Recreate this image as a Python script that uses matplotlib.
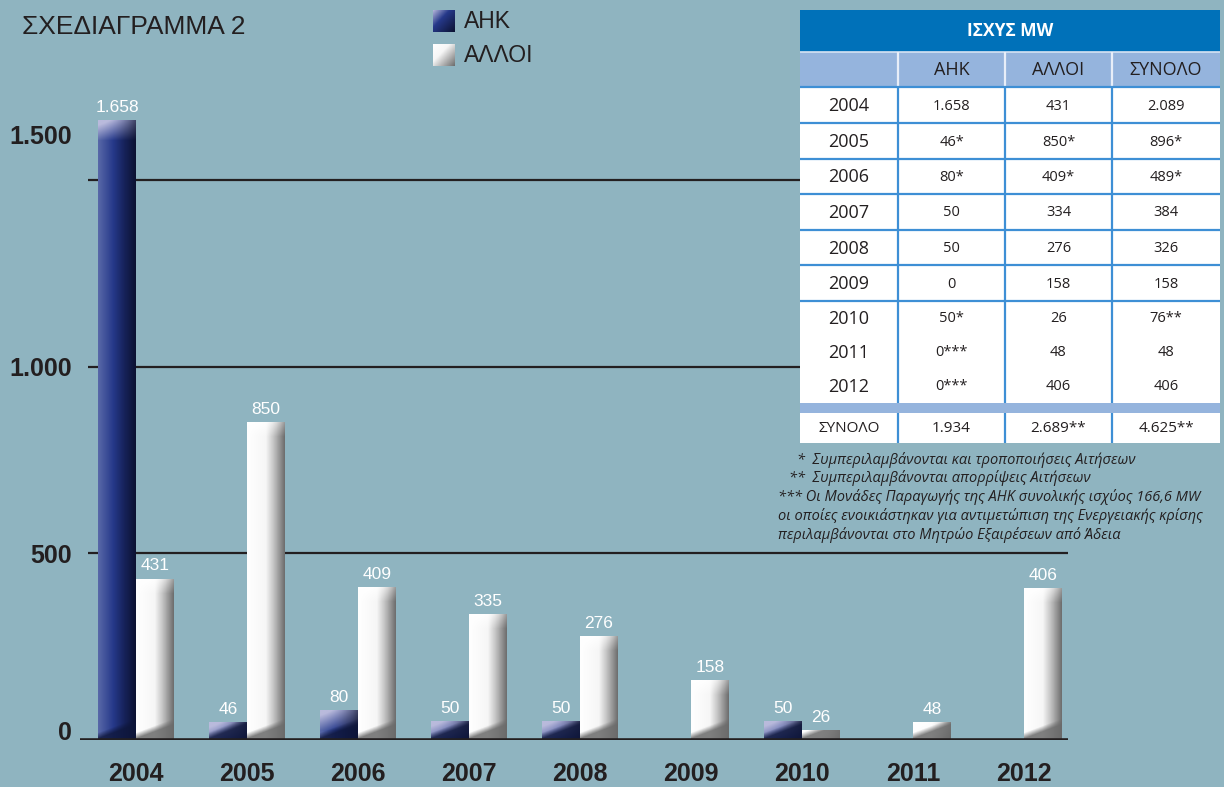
import matplotlib.pyplot as plt
import numpy as np
from matplotlib.patches import Rectangle
from matplotlib.transforms import ScaledTranslation

# chart data
years = ['2004', '2005', '2006', '2007', '2008', '2009', '2010', '2011', '2012']
ahk = [1658, 46, 80, 50, 50, 0, 50, 0, 0]
alloi = [431, 850, 409, 335, 276, 158, 26, 48, 406]
yticks = [0, 500, 1000, 1500]
ytick_labels = ['0', '500', '1.000', '1.500']
series_names = ['ΑΗΚ', 'ΑΛΛΟΙ']
title = 'ΣΧΕΔΙΑΓΡΑΜΜΑ 2'

# table data
table_title = 'ΙΣΧΥΣ MW'
table_cols = ['ΑΗΚ', 'ΑΛΛΟΙ', 'ΣΥΝΟΛΟ']
table_ahk = ['1.658', '46*', '80*', '50', '50', '0', '50*', '0***', '0***']
table_alloi = ['431', '850*', '409*', '334', '276', '158', '26', '48', '406']
table_total = ['2.089', '896*', '489*', '384', '326', '158', '76**', '48', '406']
table_sum_label = 'ΣΥΝΟΛΟ'
table_sum = ['1.934', '2.689**', '4.625**']
notes = ['*  Συμπεριλαμβάνονται και τροποποιήσεις Αιτήσεων',
         '**  Συμπεριλαμβάνονται απορρίψεις Αιτήσεων',
         '*** Οι Μονάδες Παραγωγής της ΑΗΚ συνολικής ισχύος 166,6 MW',
         'οι οποίες ενοικιάστηκαν για αντιμετώπιση της Ενεργειακής κρίσης',
         'περιλαμβάνονται στο Μητρώο Εξαιρέσεων από Άδεια']

BG = '#8fb4c0'
DARK = '#231f20'
FONT = 'Liberation Sans'
TFONT = 'Open Sans'


def hex2rgb(h):
    return np.array([int(h[i:i + 2], 16) for i in (1, 3, 5)]) / 255.0


def bar_image(nrows, stops, cols, hi, hi_px, shadow, sh_px, sh_max, ncols=48):
    x = np.linspace(0, 1, ncols)
    base = np.stack([np.interp(x, stops, [hex2rgb(c)[k] for c in cols]) for k in range(3)], axis=-1)
    img = np.repeat(base[None, :, :], nrows, axis=0)
    r = np.arange(nrows)[:, None]
    # light bevel at the top
    s = np.clip((hi_px - r) / hi_px * (1.3 - x[None, :]), 0, 1)[..., None]
    img = img * (1 - s) + hex2rgb(hi) * s
    # darker floor at the bottom, rising to the right
    rb = nrows - 1 - r
    d = np.clip((sh_px * (0.5 + x[None, :]) - rb) / 6.0, 0, 1) * sh_max
    img = img * (1 - d[..., None]) + hex2rgb(shadow) * d[..., None]
    return img


blue_style = dict(stops=[0, 0.4, 0.7, 1], cols=['#5868a8', '#26398a', '#16225a', '#0c1232'],
                  hi='#b9badc', hi_px=20, shadow='#0e163a', sh_px=14, sh_max=0.8)
white_style = dict(stops=[0, 0.5, 0.72, 1], cols=['#ffffff', '#f6f6f6', '#c0c0c0', '#6e6e6e'],
                   hi='#ffffff', hi_px=14, shadow='#6a6a6a', sh_px=14, sh_max=0.85)

fig = plt.figure(figsize=(12.24, 7.87), dpi=100, facecolor=BG)
ax = fig.add_axes([80 / 1224, 47 / 787, 988 / 1224, 680 / 787])
ax.set_facecolor(BG)

x = np.arange(len(years))
w = 0.342
ylim = (0, 1821)
xlim = (-0.5045, 8.396)
ax.set_xlim(xlim)
ax.set_ylim(ylim)

bars_a = ax.bar(x - w / 2, ahk, w, color='#27398a', zorder=2)
bars_b = ax.bar(x + w / 2, alloi, w, color='#ffffff', zorder=2)

for bars, st in ((bars_a, blue_style), (bars_b, white_style)):
    for p in bars:
        h = p.get_height()
        if h <= 0:
            continue
        x0 = p.get_x()
        y0 = ax.transData.transform((x0, 0))[1]
        y1 = ax.transData.transform((x0, h))[1]
        img = bar_image(max(int(round(y1 - y0)), 2), **st)
        ax.imshow(img, extent=[x0, x0 + p.get_width(), 0, h], aspect='auto',
                  interpolation='bilinear', zorder=3)
ax.set_xlim(xlim)
ax.set_ylim(ylim)

for bars, vals in ((bars_a, ahk), (bars_b, alloi)):
    labels = [f'{v:,}'.replace(',', '.') if v else '' for v in vals]
    ax.bar_label(bars, labels=labels, padding=4, color='white', fontsize=12.5,
                 family=FONT, zorder=4)

ax.hlines(yticks[1:], xlim[0] + 0.07, xlim[1], color=DARK, lw=1.6, zorder=1)
ax.axhline(0, color=DARK, lw=2.6, zorder=4)

for s in ax.spines.values():
    s.set_visible(False)
ax.set_yticks(yticks, ytick_labels)
ax.set_xticks(x, years)
ax.tick_params(length=0)
ax.tick_params(axis='y', pad=6)
ax.tick_params(axis='x', pad=16)
for lab in ax.get_yticklabels() + ax.get_xticklabels():
    lab.set_fontweight('bold')
    lab.set_family(FONT)
    lab.set_color(DARK)
    lab.set_fontsize(18)
ylabs = ax.get_yticklabels()
ylabs[0].set_transform(ylabs[0].get_transform() + ScaledTranslation(0, 9 / 100, fig.dpi_scale_trans))
ylabs[3].set_transform(ylabs[3].get_transform() + ScaledTranslation(0, 45 / 100, fig.dpi_scale_trans))

# title and legend
fig.text(22 / 1224, 1 - 27 / 787, title, family=FONT, fontsize=19, color=DARK, va='center')
leg_y = [21, 55]
for name, st, yy in zip(series_names, (blue_style, white_style), leg_y):
    lax = fig.add_axes([433 / 1224, 1 - (yy + 11.5) / 787, 22 / 1224, 23 / 787])
    g = np.linspace(0, 1, 30)
    t = np.clip((g[None, :] + g[:, None]) / 2, 0, 1)
    cols = [hex2rgb(c) for c in st['cols']]
    top = hex2rgb(st['hi'])
    img = np.stack([np.interp(t, [0, 0.4, 1], [top[k], cols[1][k], cols[3][k]]) for k in range(3)], axis=-1)
    lax.imshow(img, aspect='auto', extent=[0, 1, 0, 1])
    lax.axis('off')
    fig.text(464 / 1224, 1 - yy / 787, name, family=FONT, fontsize=16.5, color=DARK, va='center')

# table, drawn in its own axes (units: pixels from the table's top-left corner)
tax = fig.add_axes([800 / 1224, 1 - 443 / 787, 420 / 1224, 433 / 787])
tax.set_xlim(0, 420)
tax.set_ylim(433, 0)
tax.axis('off')
col_edges = [0, 98, 205, 312, 420]
row_edges = [77, 113, 149, 184, 220, 255, 291, 325, 359, 393]
LBLUE = '#95b4dd'
LINE = '#3e8fd5'
tax.add_patch(Rectangle((0, 0), 420, 42, color='#0071b9', lw=0))
tax.add_patch(Rectangle((0, 42), 420, 35, color=LBLUE, lw=0))
tax.add_patch(Rectangle((0, 77), 420, 356, color='white', lw=0))
tax.add_patch(Rectangle((0, 393), 420, 10, color=LBLUE, lw=0))
tax.hlines(42, 0, 420, color='#d7e3f3', lw=1.2)
tax.vlines(col_edges[1:4], 42, 77, color='#e8eef8', lw=1.6)
tax.vlines(col_edges[1:4], 77, 393, color=LINE, lw=1.6)
tax.vlines(col_edges[1:4], 403, 433, color=LINE, lw=1.6)
tax.hlines(row_edges[:7], 0, 420, color=LINE, lw=1.6)
tax.text(210, 21, table_title, ha='center', va='center', color='white',
         fontsize=12.5, fontweight='bold', family=TFONT)
for c, name in enumerate(table_cols):
    tax.text((col_edges[c + 1] + col_edges[c + 2]) / 2, 60, name, ha='center', va='center',
             fontsize=13, family=TFONT, color=DARK)
centers = [(col_edges[i] + col_edges[i + 1]) / 2 for i in range(4)]
for r, yr in enumerate(years):
    yc = (row_edges[r] + row_edges[r + 1]) / 2 + 1
    tax.text(centers[0], yc, yr, ha='center', va='center', fontsize=13, family=TFONT, color=DARK)
    for c, col in enumerate((table_ahk, table_alloi, table_total)):
        tax.text(centers[c + 1], yc, col[r], ha='center', va='center', fontsize=10.5,
                 family=TFONT, color=DARK)
tax.text(centers[0], 419, table_sum_label, ha='center', va='center', fontsize=11,
         family=TFONT, color=DARK)
for c, v in enumerate(table_sum):
    tax.text(centers[c + 1], 418, v, ha='center', va='center', fontsize=11,
             family=TFONT, color=DARK)

# footnotes
note_x = [797, 789, 778, 778, 778]
note_y = [460, 478, 497, 516, 535]
for t, nx, ny in zip(notes, note_x, note_y):
    fig.text(nx / 1224, 1 - ny / 787, t, family=TFONT, style='italic', fontsize=10.5,
             color=DARK, va='center')

fig.savefig('out.png', dpi=100, facecolor=BG)
